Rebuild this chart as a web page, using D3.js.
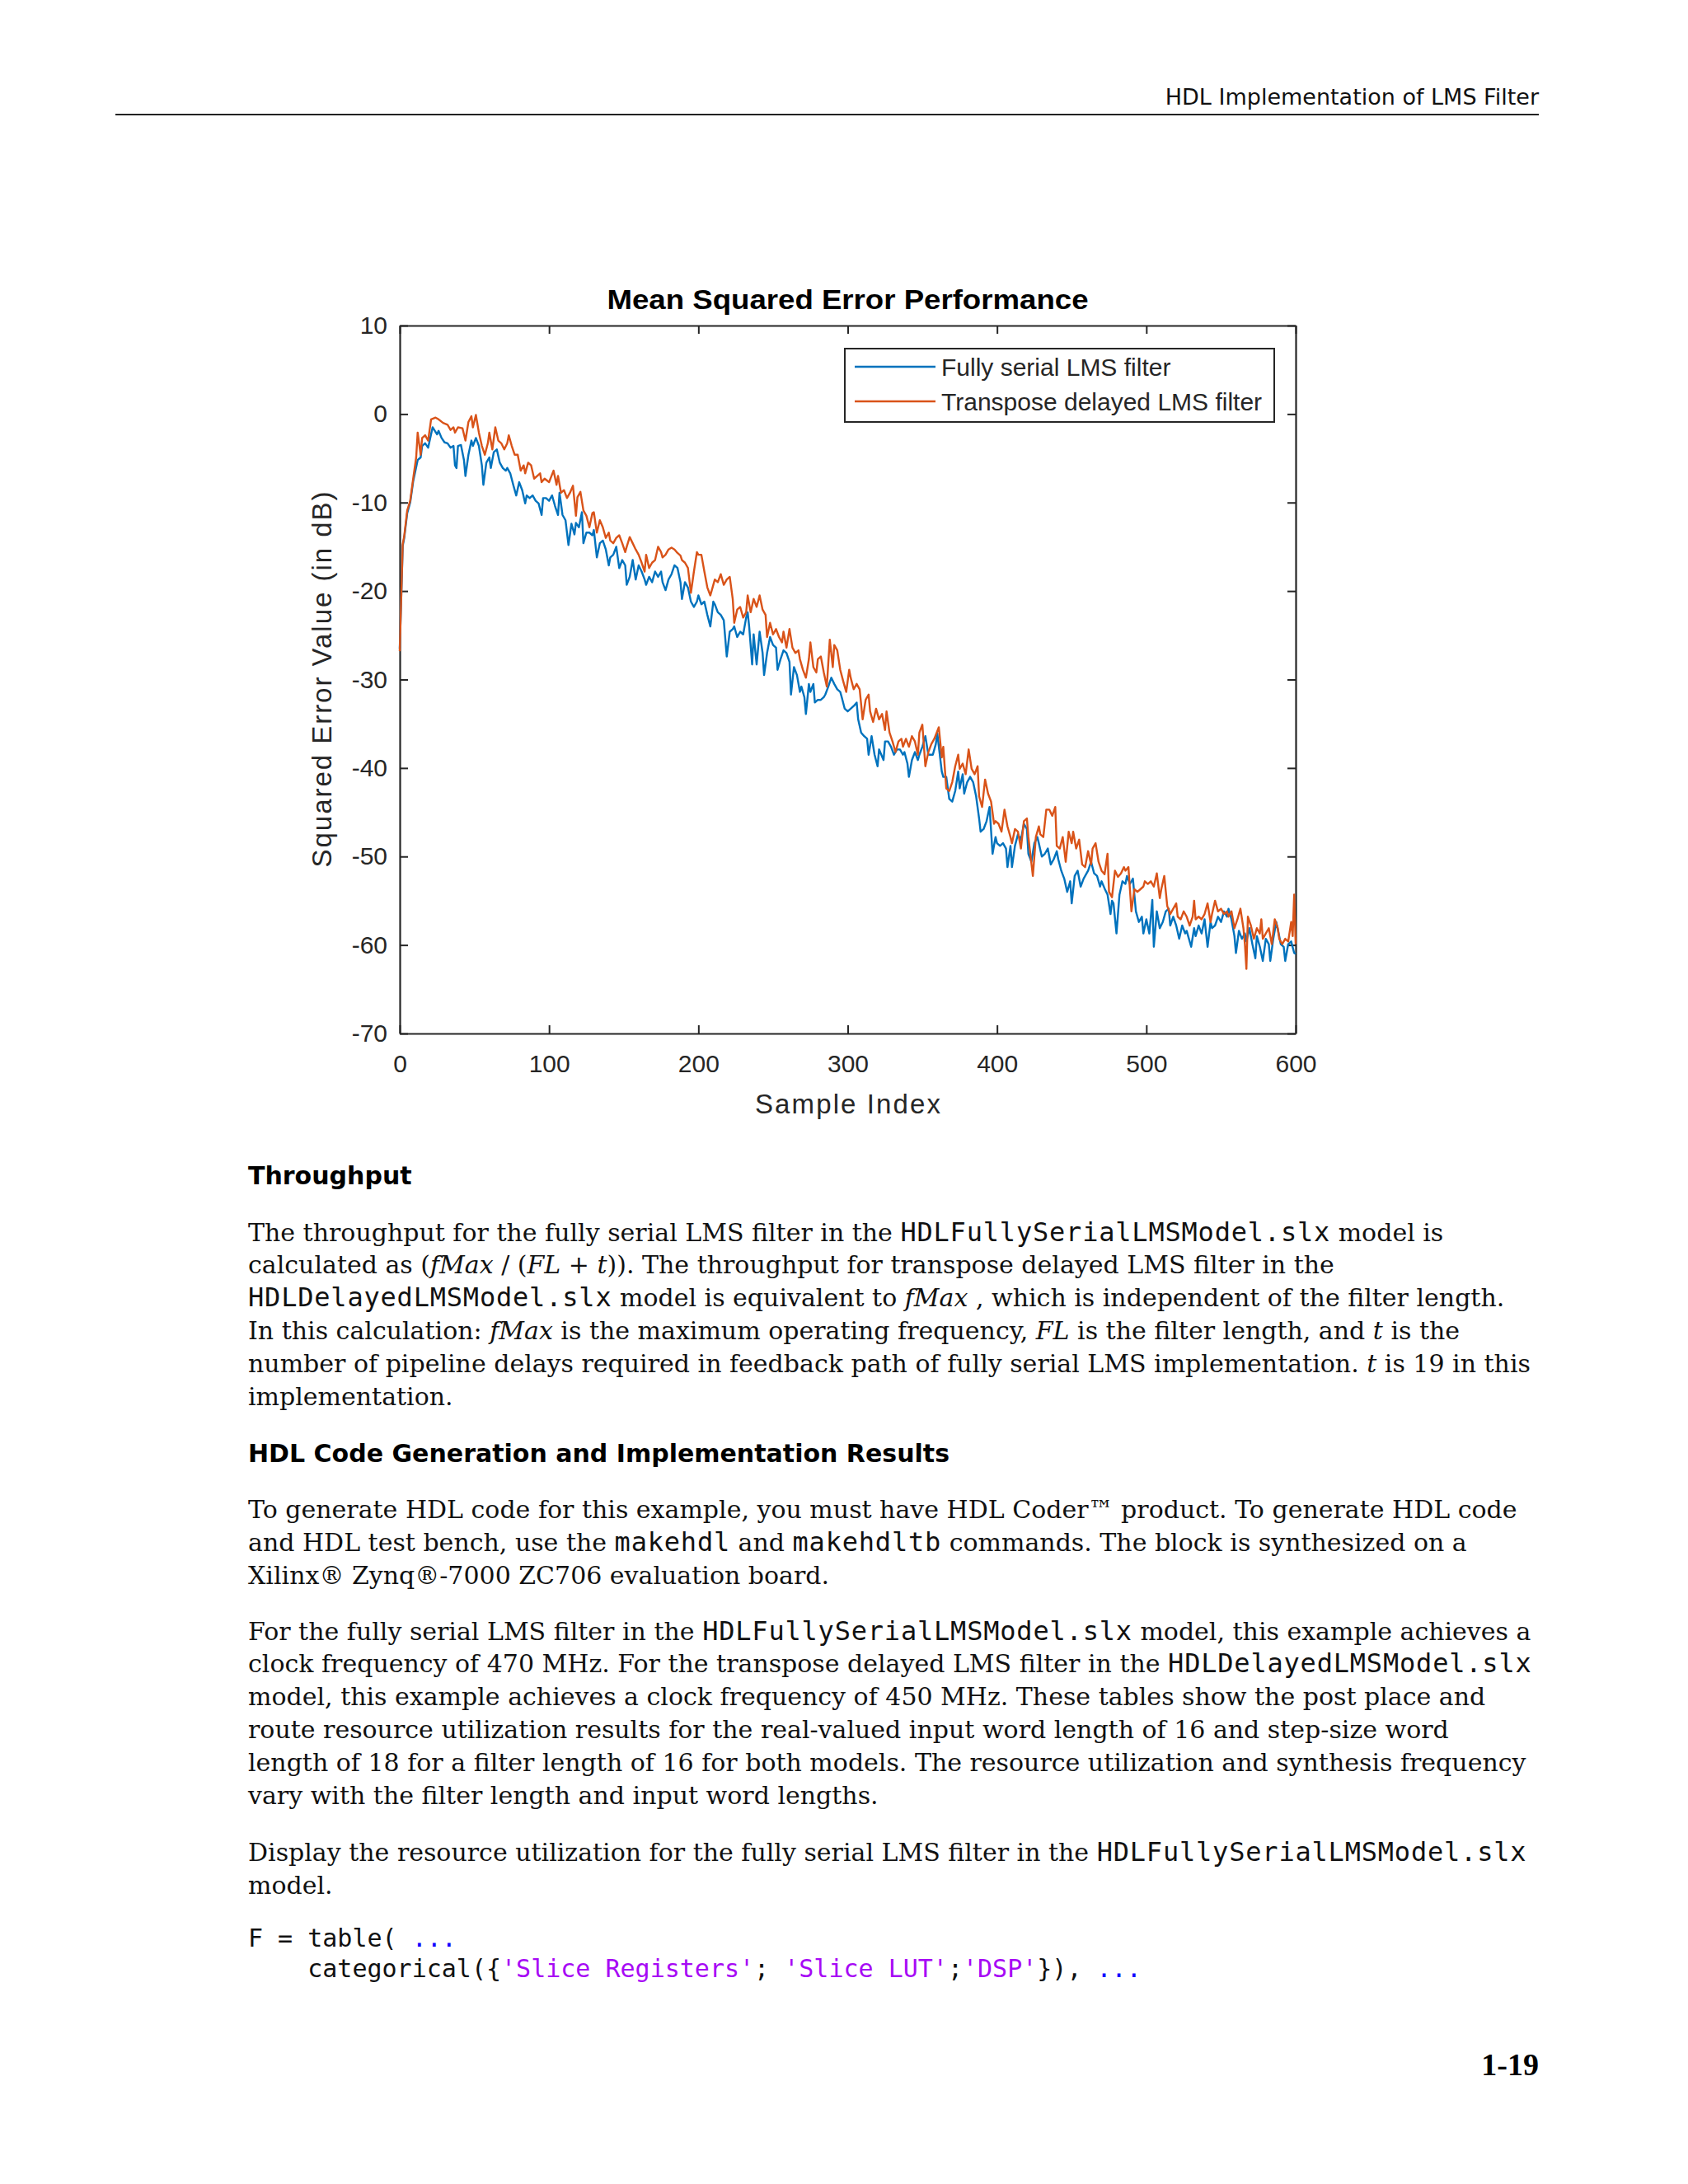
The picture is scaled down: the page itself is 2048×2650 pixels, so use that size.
<!DOCTYPE html>
<html><head><meta charset="utf-8">
<script src="https://cdn.jsdelivr.net/npm/d3@7"></script>
<style>html,body{margin:0;padding:0;background:#fff;} text{white-space:pre;}</style>
</head><body>
<script>
// ---------------- DATA ----------------
const xTicks = [0, 100, 200, 300, 400, 500, 600];
const yTicks = [10, 0, -10, -20, -30, -40, -50, -60, -70];
const seriesNames = ["Fully serial LMS filter", "Transpose delayed LMS filter"];

const fsSample = [0,2,3,5,7,9,12,14,15,17,19,22,25,26,28,30,32,34,36,37,38,39,41,43,44,46,48,49,51,53,55,56,58,60,61,63,65,67,69,71,72,74,76,78,80,82,84,85,87,89,91,93,95,96,98,100,102,104,106,107,109,111,113,115,117,118,120,122,123,125,127,129,130,132,134,136,138,140,141,143,145,147,149,151,152,154,156,158,160,162,164,165,167,169,171,173,175,176,178,180,182,184,186,188,189,191,193,195,197,199,200,202,204,206,208,210,211,213,215,217,219,221,223,224,226,228,230,232,233,234,236,237,239,241,243,244,246,248,250,252,253,255,257,259,261,262,264,266,268,269,271,272,274,275,277,278,280,282,284,285,287,289,291,293,295,296,298,300,302,304,306,307,309,311,313,314,316,318,320,321,324,325,327,329,331,333,335,337,338,340,341,343,345,347,348,350,352,354,357,359,360,363,364,366,368,370,372,374,375,377,378,380,382,384,386,388,389,391,393,395,397,399,400,402,404,406,407,409,410,412,414,416,418,420,421,423,425,427,428,430,432,434,436,438,440,441,443,445,447,449,450,452,454,456,458,459,461,463,465,467,469,470,472,474,476,477,478,480,482,484,486,487,489,491,493,495,497,498,500,502,504,505,507,509,511,513,515,516,518,520,522,524,526,527,530,532,533,535,537,539,541,543,544,546,548,550,552,554,555,557,559,560,562,564,566,567,569,571,573,574,576,578,580,582,583,585,587,589,590,592,593,595,597,599,600];
const fsValue = [-26.5,-14.9,-14,-11.2,-10,-7.6,-5.2,-4.9,-3.6,-3.3,-3.8,-1.5,-2.3,-1.9,-2.7,-3.2,-3.3,-3.8,-3.6,-5.8,-6.1,-3.6,-3.5,-5.2,-7,-4.6,-3,-3.6,-2.7,-3.6,-5.8,-8,-5.5,-4.9,-6.1,-4.3,-4,-5.5,-6.1,-6.4,-6.1,-6.7,-8,-9.2,-7.7,-8.6,-10.1,-9.2,-9.5,-9.2,-9.8,-10.1,-11.4,-9.5,-9.5,-9.8,-9.2,-10.4,-11.4,-8.9,-11.4,-12,-14.8,-12.4,-13.6,-12.3,-12.8,-11.1,-14.6,-13.4,-13.4,-13.7,-13.1,-16.2,-14.6,-14.3,-15.3,-17.1,-16.2,-15.9,-15,-17.4,-16.5,-17.1,-19.3,-18.4,-16.5,-18.7,-17.1,-17.8,-18.7,-19.3,-18.4,-19,-17.8,-18.4,-17.8,-19,-19.9,-18.7,-18.1,-17.1,-17.4,-19,-20.9,-19,-19.6,-21.2,-21.8,-21.2,-20.5,-21.5,-21.2,-22.7,-24,-21.2,-21.5,-22.4,-22.7,-23.3,-27.4,-24.6,-24.3,-24,-25.2,-24.6,-24.9,-23,-22.4,-24,-28.3,-24.9,-28.3,-24.6,-27,-29.5,-27,-25.2,-26.1,-26.4,-28.9,-27.7,-26.7,-27,-28,-31.7,-28.6,-29.5,-31.4,-30.8,-32,-33.9,-30.5,-31.4,-30.5,-32.6,-32.3,-32.3,-32,-31.7,-30.8,-29.8,-30.5,-31.1,-31.4,-32,-33.3,-33.6,-33.3,-33,-32.6,-34.5,-36,-36.4,-36.7,-38.5,-36.4,-38.5,-39.8,-37.9,-39.1,-37,-37,-37.6,-38.5,-37.9,-37.9,-38.5,-38.2,-39.5,-41,-39.1,-38.2,-39.1,-38.5,-37.6,-36.4,-38.5,-38.5,-37.3,-36.1,-40.4,-41,-41,-43.5,-43.8,-42.6,-40.4,-42.3,-40.7,-42.9,-41.6,-41,-41.6,-43.2,-45.7,-47.2,-46.9,-46,-44.4,-49.7,-47.8,-48.5,-48.8,-48.5,-49.1,-51.2,-48.8,-51.2,-48.8,-47.5,-48.1,-46.3,-46.9,-49.7,-50.6,-48.5,-47.8,-48.5,-50,-49.7,-49.1,-50.9,-50.3,-49.4,-50.3,-51.6,-52.5,-54,-52.8,-55.3,-52.2,-51.6,-53.4,-52.5,-52.2,-51.6,-50.6,-51.9,-52.2,-53.4,-52.8,-53.6,-54.3,-56.5,-55,-55.3,-58.7,-54.3,-52.8,-53.1,-52.2,-53.1,-52.5,-56.2,-57.4,-56.8,-58.7,-57.1,-58.7,-54.9,-60.2,-56.2,-58.1,-57.4,-56.2,-55.9,-57.8,-56.8,-57.8,-59.3,-57.8,-58.7,-58.4,-60.2,-58.1,-59,-57.8,-58.7,-57.1,-60.2,-57.4,-58.1,-57.8,-56.8,-57.4,-56.2,-56.8,-55.9,-57.1,-59,-60.9,-58.4,-59.3,-58.7,-59.6,-58.1,-59.9,-61.5,-59,-60.2,-61.8,-59.3,-59.9,-61.8,-59.3,-57.4,-59,-59.9,-60.2,-61.8,-59.9,-59.6,-60.9,-61];

const tdSample = [0,2,3,5,7,9,11,12,14,15,17,19,21,24,26,29,32,34,36,37,39,42,44,46,48,49,51,53,55,57,59,60,62,64,66,68,70,72,73,75,77,79,81,83,84,86,88,90,92,94,95,97,100,103,105,106,108,110,112,114,116,118,119,121,123,125,127,129,130,132,134,136,138,140,141,143,145,147,149,151,152,154,156,158,160,162,164,165,167,169,171,173,175,176,178,180,182,184,186,188,189,191,193,195,197,199,200,202,204,206,208,210,211,213,215,217,219,221,223,224,226,228,230,232,233,235,237,239,241,243,245,246,248,250,252,254,256,257,259,261,263,265,267,268,270,272,274,275,277,279,280,282,284,286,288,290,291,293,295,297,299,301,302,304,306,308,310,312,314,315,317,319,321,323,325,326,328,330,332,334,336,337,339,341,343,345,347,348,350,352,354,356,358,361,363,364,366,368,370,372,374,375,377,379,381,383,385,387,388,390,392,394,396,398,399,401,403,405,407,409,410,412,414,416,418,420,421,424,426,428,429,431,433,435,437,439,440,442,444,446,448,450,451,453,455,457,459,461,463,464,466,468,470,472,474,475,477,479,481,483,485,486,488,490,492,494,496,498,499,501,503,505,507,509,510,512,514,516,518,520,521,523,525,527,529,531,532,533,535,537,539,541,543,544,546,548,550,552,554,555,557,559,561,563,565,566,567,568,570,572,574,576,577,578,580,582,584,586,588,589,591,593,595,597,598,599,600];
const tdValue = [-26.8,-14.7,-13.8,-10.9,-9.8,-7.3,-4.9,-2.1,-4.6,-2.7,-2.4,-3,-0.6,-0.4,-0.6,-1,-1.2,-1.8,-1.5,-2.1,-1.5,-1.6,-3,-0.9,-0.25,-1.5,-0.1,-2.1,-3.6,-4.6,-3.3,-2.1,-4,-1.5,-3,-3.3,-4,-3.3,-2.4,-3.6,-4.6,-4.6,-6.4,-5.8,-6.7,-5.5,-5.8,-7.3,-7,-6.7,-7.7,-7.3,-7.7,-6.4,-8,-7,-8.9,-8.6,-9.5,-8.9,-8.1,-11.5,-9.4,-8.8,-10.9,-11.5,-12.8,-11.2,-11.1,-13.4,-12,-12.8,-14,-13.4,-14.3,-14.6,-14,-13.7,-14.6,-15.6,-15,-13.9,-14.6,-15.3,-15.9,-16.8,-17.8,-15.9,-17.4,-16.8,-16.5,-15,-15.6,-16.2,-15.9,-15.3,-15.1,-15.3,-15.7,-16,-16.5,-16.8,-17.4,-20.2,-17.8,-15.6,-15.9,-15.9,-17.8,-19.6,-20.5,-19.3,-18.7,-19,-18.1,-19.3,-18.7,-18.4,-20.9,-23.6,-22.1,-21.8,-23,-22.4,-20.5,-22.4,-20.9,-21.8,-20.5,-22.1,-22.7,-25.2,-23.6,-24.9,-24.3,-25.2,-25.8,-24.6,-26.4,-24.3,-26.4,-27,-26.7,-27.7,-28.9,-29.8,-27.7,-25.8,-28.6,-29.2,-27.7,-27.4,-29.2,-30.8,-25.5,-28.6,-26.1,-26.7,-28.9,-30.2,-31.4,-28.9,-29.8,-31.1,-30.5,-31.1,-34.5,-32.3,-31.7,-33.6,-34.8,-33.3,-34.5,-33.9,-35.7,-33.6,-36,-37,-38.2,-37,-36.7,-37.6,-36.7,-37.6,-36.4,-37,-38.5,-36,-35.1,-39.8,-38.2,-37.3,-36.7,-35.4,-38.8,-37.6,-42.3,-42.6,-41.6,-39.8,-38.5,-40.1,-39.5,-40.7,-37.9,-40.1,-40.7,-39.8,-43.2,-44.4,-41.3,-42.9,-43.8,-46.3,-46,-46.3,-47.2,-44.7,-46.6,-47.8,-48.5,-46.9,-47.2,-49.1,-46,-45.7,-47.8,-52.2,-47.8,-46.6,-47.5,-47.8,-44.7,-44.7,-45.4,-44.4,-48.8,-49.1,-47.8,-50.6,-47.2,-48.5,-47.2,-49.1,-48.1,-50.9,-51.2,-49.4,-50.9,-49.1,-48.5,-50.6,-51.6,-52,-49.7,-54,-54.6,-51.6,-52.3,-51.9,-51.2,-51.6,-51.2,-56.2,-53.7,-54,-53.7,-53.4,-52.8,-53.1,-52.8,-53.4,-51.9,-54.7,-53.7,-52.2,-55.6,-56.5,-55.9,-55.3,-56.8,-57.1,-56.2,-56.8,-57.8,-56.8,-55,-57.1,-56.8,-57.1,-56.5,-55.3,-57.4,-56.5,-55,-56.2,-55.9,-56.5,-56.2,-56.8,-56.2,-58.1,-57.1,-55.9,-58.1,-59.9,-62.7,-56.8,-57.8,-59.3,-58.1,-58.7,-57.1,-59.3,-58.7,-58.1,-59.9,-57.1,-58.1,-59.3,-59.9,-59.3,-59.6,-57.4,-59,-54.3,-59.9];

// ---------------- PAGE ----------------
const W = 2048, H = 2650;
const svg = d3.select("body").append("svg").attr("width", W).attr("height", H)
  .attr("xmlns", "http://www.w3.org/2000/svg");
svg.append("rect").attr("width", W).attr("height", H).attr("fill", "#fff");

// running header
svg.append("text").attr("x", 1867).attr("y", 127).attr("text-anchor", "end")
  .attr("font-family", "DejaVu Sans").attr("font-size", 27).attr("fill", "#111")
  .text("HDL Implementation of LMS Filter");
svg.append("line").attr("x1", 140).attr("x2", 1867).attr("y1", 139).attr("y2", 139)
  .attr("stroke", "#222").attr("stroke-width", 2.2);

// ---------------- CHART ----------------
const x = d3.scaleLinear().domain([0, 600]).range([485, 1572]);
const y = d3.scaleLinear().domain([-70, 10]).range([1254, 395]);
const axisColor = "#262626";
const tickFont = "'Liberation Sans', Arial, sans-serif";
const plainNum = d => String(d);

const chart = svg.append("g");
function styleAxis(g) {
  g.select(".domain").attr("stroke", axisColor).attr("stroke-width", 2.2);
  g.selectAll(".tick line").attr("stroke", axisColor).attr("stroke-width", 2);
  g.selectAll(".tick text").attr("fill", axisColor).attr("font-family", tickFont).attr("font-size", 30);
}
chart.append("g").attr("transform", "translate(0,1254)")
  .call(d3.axisBottom(x).tickValues(xTicks).tickSize(-10).tickSizeOuter(0).tickPadding(26).tickFormat(plainNum))
  .call(styleAxis);
chart.append("g").attr("transform", "translate(485,0)")
  .call(d3.axisLeft(y).tickValues(yTicks).tickSize(-10).tickSizeOuter(0).tickPadding(15).tickFormat(plainNum))
  .call(styleAxis);
chart.append("g").attr("transform", "translate(0,395)")
  .call(d3.axisTop(x).tickValues(xTicks).tickSize(-10).tickSizeOuter(0).tickFormat(""))
  .call(styleAxis);
chart.append("g").attr("transform", "translate(1572,0)")
  .call(d3.axisRight(y).tickValues(yTicks).tickSize(-10).tickSizeOuter(0).tickFormat(""))
  .call(styleAxis);
chart.selectAll(".domain").attr("fill", "none");

const colors = ["#0072BD", "#D95319"];
const line = d3.line().x(d => x(d[0])).y(d => y(d[1]));
const fsData = fsSample.map((s, i) => [s, fsValue[i]]);
const tdData = tdSample.map((s, i) => [s, tdValue[i]]);
[fsData, tdData].forEach((data, i) => {
  chart.append("path").datum(data).attr("d", line).attr("fill", "none")
    .attr("stroke", colors[i]).attr("stroke-width", 2.4).attr("stroke-linejoin", "round");
});

// title and labels
chart.append("text").attr("x", 1028.5).attr("y", 375).attr("text-anchor", "middle")
  .attr("font-family", tickFont).attr("font-weight", "bold").attr("font-size", 34)
  .attr("fill", "#000").attr("textLength", 584).attr("lengthAdjust", "spacingAndGlyphs")
  .text("Mean Squared Error Performance");
chart.append("text").attr("x", 1028.5).attr("y", 1351).attr("text-anchor", "middle")
  .attr("font-family", tickFont).attr("font-size", 33).attr("fill", axisColor)
  .attr("textLength", 225).attr("lengthAdjust", "spacing")
  .text("Sample Index");
chart.append("text").attr("transform", "translate(402,824.5) rotate(-90)").attr("text-anchor", "middle")
  .attr("font-family", tickFont).attr("font-size", 33).attr("fill", axisColor)
  .attr("textLength", 456).attr("lengthAdjust", "spacing")
  .text("Squared Error Value (in dB)");

// legend
const lg = chart.append("g");
lg.append("rect").attr("x", 1025).attr("y", 423).attr("width", 521).attr("height", 89)
  .attr("fill", "#fff").attr("stroke", axisColor).attr("stroke-width", 2);
seriesNames.forEach((name, i) => {
  const cy = 445 + i * 42;
  lg.append("line").attr("x1", 1037).attr("x2", 1135).attr("y1", cy).attr("y2", cy)
    .attr("stroke", colors[i]).attr("stroke-width", 2.4);
  lg.append("text").attr("x", 1142).attr("y", cy + 10.5).attr("font-family", tickFont)
    .attr("font-size", 30).attr("fill", axisColor).text(name);
});

// ---------------- BODY TEXT ----------------
const styles = {
  r: {family: "'DejaVu Serif', serif", size: 30, fill: "#111"},
  i: {family: "'DejaVu Serif', serif", size: 30, fill: "#111", italic: true},
  m: {family: "'DejaVu Sans Mono', monospace", size: 32, fill: "#111", ls: 0.8},
  c: {family: "'DejaVu Sans Mono', monospace", size: 30, fill: "#111"},
  cb: {family: "'DejaVu Sans Mono', monospace", size: 30, fill: "#0E00FF"},
  cs: {family: "'DejaVu Sans Mono', monospace", size: 30, fill: "#A709F5"},
  h: {family: "'DejaVu Sans', sans-serif", size: 30, fill: "#000", bold: true}
};
function writeLine(yy, segs, xx = 301) {
  const t = svg.append("text").attr("x", xx).attr("y", yy).attr("xml:space", "preserve");
  segs.forEach(([st, str]) => {
    const s = styles[st];
    const ts = t.append("tspan").attr("font-family", s.family).attr("font-size", s.size).attr("fill", s.fill).text(str);
    if (s.italic) ts.attr("font-style", "italic");
    if (s.bold) ts.attr("font-weight", "bold");
    if (s.ls) ts.attr("letter-spacing", s.ls);
  });
  return t;
}

writeLine(1437, [["h", "Throughput"]]);
const p1 = [
  [["r", "The throughput for the fully serial LMS filter in the "], ["m", "HDLFullySerialLMSModel.slx"], ["r", " model is"]],
  [["r", "calculated as ("], ["i", "fMax"], ["r", " / ("], ["i", "FL"], ["r", " + "], ["i", "t"], ["r", ")). The throughput for transpose delayed LMS filter in the"]],
  [["m", "HDLDelayedLMSModel.slx"], ["r", " model is equivalent to "], ["i", "fMax"], ["r", " , which is independent of the filter length."]],
  [["r", "In this calculation: "], ["i", "fMax"], ["r", " is the maximum operating frequency, "], ["i", "FL"], ["r", " is the filter length, and "], ["i", "t"], ["r", " is the"]],
  [["r", "number of pipeline delays required in feedback path of fully serial LMS implementation. "], ["i", "t"], ["r", " is 19 in this"]],
  [["r", "implementation."]]
];
p1.forEach((l, k) => writeLine(1505.5 + k * 39.8, l));

writeLine(1774, [["h", "HDL Code Generation and Implementation Results"]]);
const p2 = [
  [["r", "To generate HDL code for this example, you must have HDL Coder™ product. To generate HDL code"]],
  [["r", "and HDL test bench, use the "], ["m", "makehdl"], ["r", " and "], ["m", "makehdltb"], ["r", " commands. The block is synthesized on a"]],
  [["r", "Xilinx® Zynq®-7000 ZC706 evaluation board."]]
];
p2.forEach((l, k) => writeLine(1842 + k * 39.8, l));

const p3 = [
  [["r", "For the fully serial LMS filter in the "], ["m", "HDLFullySerialLMSModel.slx"], ["r", " model, this example achieves a"]],
  [["r", "clock frequency of 470 MHz. For the transpose delayed LMS filter in the "], ["m", "HDLDelayedLMSModel.slx"]],
  [["r", "model, this example achieves a clock frequency of 450 MHz. These tables show the post place and"]],
  [["r", "route resource utilization results for the real-valued input word length of 16 and step-size word"]],
  [["r", "length of 18 for a filter length of 16 for both models. The resource utilization and synthesis frequency"]],
  [["r", "vary with the filter length and input word lengths."]]
];
p3.forEach((l, k) => writeLine(1989.5 + k * 39.8, l));

const p4 = [
  [["r", "Display the resource utilization for the fully serial LMS filter in the "], ["m", "HDLFullySerialLMSModel.slx"]],
  [["r", "model."]]
];
p4.forEach((l, k) => writeLine(2258 + k * 39.8, l));

writeLine(2362, [["c", "F = table( "], ["cb", "..."]]);
writeLine(2399, [["c", "    categorical({"], ["cs", "'Slice Registers'"], ["c", "; "], ["cs", "'Slice LUT'"], ["c", ";"], ["cs", "'DSP'"], ["c", "}), "], ["cb", "..."]]);

svg.append("text").attr("x", 1867).attr("y", 2518).attr("text-anchor", "end")
  .attr("font-family", "'Liberation Serif', serif").attr("font-weight", "bold").attr("font-size", 38)
  .attr("fill", "#000").text("1-19");
</script>
</body></html>
